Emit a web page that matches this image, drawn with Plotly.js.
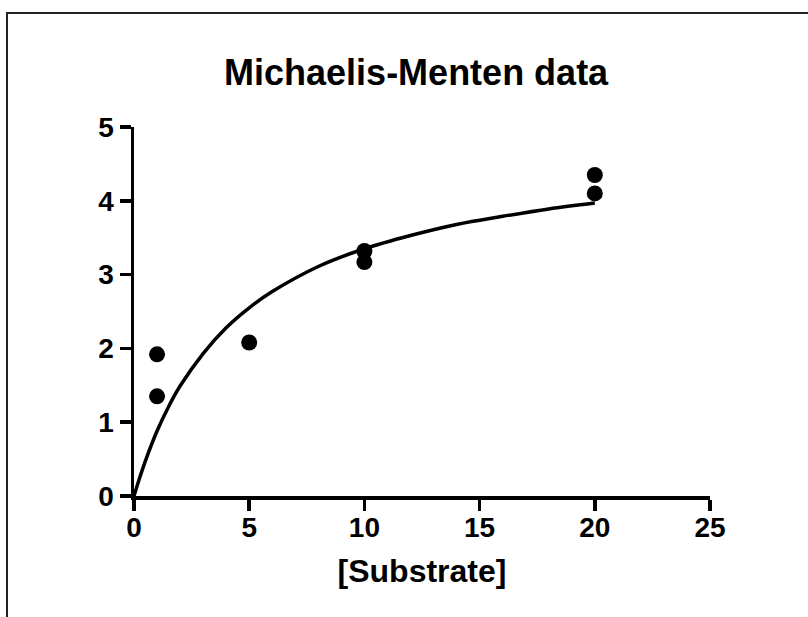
<!DOCTYPE html>
<html>
<head>
<meta charset="utf-8">
<script src="https://cdn.plot.ly/plotly-3.0.1.min.js"></script>
<style>
  html, body { margin: 0; padding: 0; background: #fff; }
  #wrap { position: relative; width: 808px; height: 617px; overflow: hidden; }
  #frame { position: absolute; left: 6px; top: 12px; width: 900px; height: 900px;
           border-left: 2px solid #222; border-top: 2px solid #222; pointer-events: none; }
  #chart { position: absolute; left: 0; top: 0; width: 808px; height: 617px; }
</style>
</head>
<body>
<div id="wrap">
  <div id="chart"></div>
  <div id="frame"></div>
</div>
<script>
// Measured data points
var substrate = [1, 1, 5, 10, 10, 20, 20];
var velocity  = [1.92, 1.35, 2.08, 3.32, 3.17, 4.35, 4.10];

// Fitted curve values
var curveX = [0, 0.25, 0.5, 1, 1.5, 2, 3, 4, 5, 6, 8, 10, 12, 14, 16, 18, 20];
var curveY = [0, 0.25, 0.48, 0.88, 1.21, 1.49, 1.93, 2.28, 2.55, 2.77, 3.11, 3.35, 3.53, 3.68, 3.79, 3.89, 3.97];

var xTicks = [0, 5, 10, 15, 20, 25];
var yTicks = [0, 1, 2, 3, 4, 5];

var fontFam = 'Liberation Sans, Arial, sans-serif';

var traces = [
  {
    x: curveX, y: curveY, type: 'scatter', mode: 'lines',
    line: { color: '#000', width: 3.5, shape: 'spline' },
    hoverinfo: 'skip', showlegend: false
  },
  {
    x: substrate, y: velocity, type: 'scatter', mode: 'markers',
    marker: { color: '#000', size: 16 },
    showlegend: false, cliponaxis: false
  }
];

var axisCommon = {
  showgrid: false, zeroline: false,
  showline: true, linecolor: '#000', linewidth: 3.5,
  ticks: 'outside', ticklen: 11, tickwidth: 3.5, tickcolor: '#000',
  tickfont: { family: fontFam, size: 28, color: '#000', weight: 'bold' },
  fixedrange: true
};

var layout = {
  width: 808, height: 617,
  margin: { l: 134, r: 98, t: 127, b: 121 },
  paper_bgcolor: 'rgba(0,0,0,0)', plot_bgcolor: 'rgba(0,0,0,0)',
  title: {
    text: '<b>Michaelis-Menten data</b>',
    font: { family: fontFam, size: 36, color: '#000' },
    x: 0.515, xanchor: 'center', y: 0.882, yanchor: 'middle'
  },
  xaxis: Object.assign({}, axisCommon, {
    range: [0, 25], tickvals: xTicks, ticktext: xTicks.map(String),
    ticklabelstandoff: -7,
    title: { text: '<b>[Substrate]</b>', font: { family: fontFam, size: 32, color: '#000' }, standoff: 18 }
  }),
  yaxis: Object.assign({}, axisCommon, {
    range: [0, 5], tickvals: yTicks, ticktext: yTicks.map(String)
  })
};

Plotly.newPlot('chart', traces, layout, { displayModeBar: false, staticPlot: true });
</script>
</body>
</html>
